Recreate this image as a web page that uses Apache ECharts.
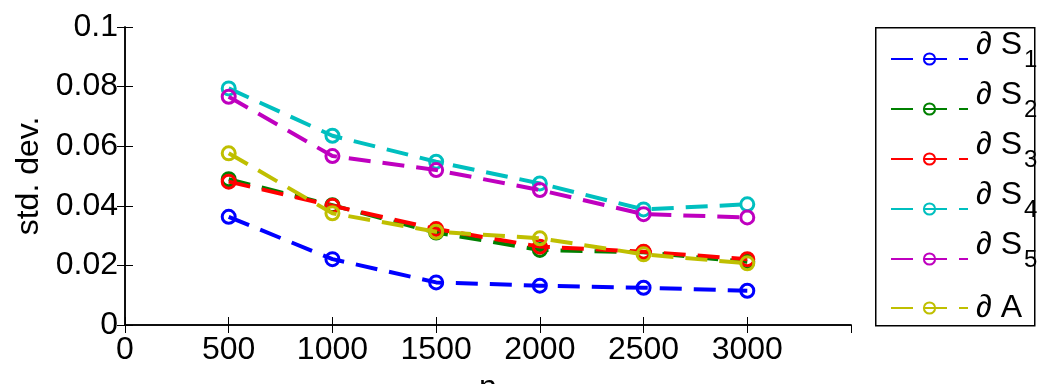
<!DOCTYPE html>
<html><head><meta charset="utf-8">
<script src="https://cdn.jsdelivr.net/npm/echarts@6/dist/echarts.min.js"></script>
<style>html,body{margin:0;padding:0;background:#fff}#c{width:1042px;height:384px}</style>
</head><body><div id="c"></div>
<script>
const nValues = [500, 1000, 1500, 2000, 2500, 3000];
const seriesNames = ['∂ S1', '∂ S2', '∂ S3', '∂ S4', '∂ S5', '∂ A'];
const dS1 = [0.0363, 0.0221, 0.0143, 0.0132, 0.0125, 0.0115];
const dS2 = [0.0489, 0.0402, 0.0310, 0.0252, 0.0244, 0.0212];
const dS3 = [0.0481, 0.0400, 0.0322, 0.0263, 0.0246, 0.0221];
const dS4 = [0.0794, 0.0635, 0.0548, 0.0475, 0.0388, 0.0405];
const dS5 = [0.0766, 0.0567, 0.0520, 0.0453, 0.0372, 0.0361];
const dA  = [0.0576, 0.0375, 0.0313, 0.0291, 0.0237, 0.0207];
const allValues = [dS1, dS2, dS3, dS4, dS5, dA];
const colors = ['#0000ff', '#008000', '#ff0000', '#00bfbf', '#bf00bf', '#bfbf00'];

const FONT = 'Liberation Sans';
const chart = echarts.init(document.getElementById('c'), null, {renderer: 'canvas'});
function axisCommon() {
  return {
    axisLine: {lineStyle: {color: '#000', width: 1.5}},
    axisTick: {show: true, inside: true, length: 8, lineStyle: {color: '#000', width: 1}},
    splitLine: {show: false}
  };
}
const series = seriesNames.map((name, i) => ({
  name: name,
  type: 'line',
  data: nValues.map((n, j) => [n, allValues[i][j]]),
  symbol: 'circle',
  symbolSize: 13,
  showSymbol: true,
  itemStyle: {color: 'rgba(255,255,255,0)', borderColor: colors[i], borderWidth: 3},
  lineStyle: {color: colors[i], width: 4, type: [22, 12]},
  emphasis: {disabled: true},
  animation: false,
  z: 2 + i
}));
chart.setOption({
  animation: false,
  grid: {left: 125, right: 191, top: 27, bottom: 59, containLabel: false, outerBoundsMode: 'none'},
  xAxis: [
    Object.assign(axisCommon(), {
      type: 'value', min: 0, max: 3500, interval: 500, position: 'bottom',
      name: 'n', nameLocation: 'middle', nameGap: 47,
      nameTextStyle: {fontFamily: FONT, fontSize: 32, color: '#000'},
      axisLabel: {fontFamily: FONT, fontSize: 32, color: '#000', margin: 9, showMaxLabel: false,
        formatter: v => v === 3500 ? '' : String(v)}
    }),
    Object.assign(axisCommon(), {
      type: 'value', min: 0, max: 3500, interval: 500, position: 'top',
      axisLabel: {show: false}
    })
  ],
  yAxis: [
    Object.assign(axisCommon(), {
      type: 'value', min: 0, max: 0.1, interval: 0.02, position: 'left',
      name: 'std. dev.', nameLocation: 'middle', nameGap: 78, nameRotate: 90,
      nameTextStyle: {fontFamily: FONT, fontSize: 32, color: '#000'},
      axisLabel: {fontFamily: FONT, fontSize: 32, color: '#000', margin: 7}
    }),
    Object.assign(axisCommon(), {
      type: 'value', min: 0, max: 0.1, interval: 0.02, position: 'right',
      axisLabel: {show: false}
    })
  ],
  graphic: [{
    type: 'rect', left: 875, top: 27, silent: true,
    shape: {width: 159, height: 298},
    style: {fill: '#fff', stroke: '#000', lineWidth: 1.5},
    z: 0
  }],
  legend: {
    orient: 'vertical',
    left: 890, top: 29,
    padding: 0,
    itemWidth: 77, itemHeight: 14, itemGap: -9,
    data: seriesNames,
    z: 10,
    formatter: name => {
      const m = name.match(/^∂ ([A-Z])(\d?)$/);
      return m[2] ? '{a|∂ ' + m[1] + '}{b|' + m[2] + '}' : '{c|∂ ' + m[1] + '}';
    },
    textStyle: {
      fontFamily: FONT, color: '#000',
      rich: {
        a: {fontFamily: FONT, fontSize: 32, color: '#000', height: 30, lineHeight: 30, padding: [0, 0, 28, 3]},
        b: {fontFamily: FONT, fontSize: 24, color: '#000', height: 24, lineHeight: 24, padding: [18, 0, 16, 2]},
        c: {fontFamily: FONT, fontSize: 32, color: '#000', height: 30, lineHeight: 30, padding: [14, 0, 14, 3]}
      }
    }
  },
  series: series
});
</script>
</body></html>
